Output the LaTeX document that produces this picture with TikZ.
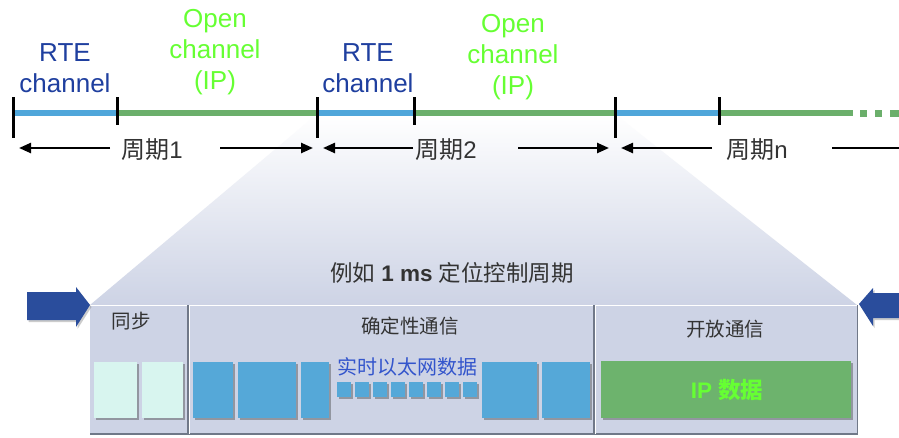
\documentclass[tikz,border=0pt]{standalone}
\usepackage{fontspec}
\setmainfont{Liberation Sans}
\newfontfamily\cjk{Noto Sans CJK SC}
\usetikzlibrary{arrows.meta,shadows}
\definecolor{barblue}{HTML}{4FA6DA}
\definecolor{bargreen}{HTML}{6BAF6B}
\definecolor{rteblue}{HTML}{1F3F9F}
\definecolor{opengreen}{HTML}{66FF33}
\definecolor{boxcol}{HTML}{CDD3E5}
\definecolor{txtgray}{HTML}{333333}
\definecolor{syncfill}{HTML}{D8F5EF}
\definecolor{rtfill}{HTML}{55A8D8}
\definecolor{ipfill}{HTML}{6DB36D}
\definecolor{bigarrow}{HTML}{2A4D9C}
\definecolor{divline}{HTML}{707888}
\definecolor{rttext}{HTML}{3355CC}
\begin{document}
\begin{tikzpicture}[x=1pt,y=-1pt,
  toplabel/.style={align=center,inner sep=0pt,font=\fontsize{26}{31}\selectfont},
  tick/.style={line width=3pt,black},
  bar/.style={line width=6.5pt},
  per/.style={text=txtgray,inner sep=0pt,font=\fontsize{24}{26}\selectfont},
  parr/.style={line width=2.4pt,-{Triangle[length=12pt,width=10pt]}},
  sec/.style={text=txtgray,inner sep=0pt,font=\fontsize{19.5}{22}\selectfont},
  blk/.style={inner sep=0pt,draw=none,drop shadow={shadow xshift=1.5pt,shadow yshift=-1.5pt,opacity=0.45,fill=black!70}},
  syncbox/.style={blk,fill=syncfill,minimum height=56pt},
  rtbox/.style={blk,fill=rtfill,minimum height=56pt},
  smallsq/.style={blk,fill=rtfill,minimum width=14pt,minimum height=15pt}
]
\useasboundingbox (0,0) rectangle (899,437);
\fill[white] (0,0) rectangle (899,437);

% trapezoid zoom region
\shade[top color=white,bottom color=boxcol] (317,114) -- (615,114) -- (857,305) -- (90,305) -- cycle;

% main frame
\fill[boxcol] (90,305) rectangle (857,435);
\draw[white,line width=1.2pt] (90,305.5) -- (857,305.5);
\draw[divline,line width=1.5pt] (90,434) -- (858,434);
\draw[divline,line width=1.5pt] (857.5,305) -- (857.5,435);
\draw[divline,line width=1.2pt] (188,305) -- (188,434);
\draw[white,line width=0.8pt] (189.5,305) -- (189.5,434);
\draw[divline,line width=1.2pt] (594,305) -- (594,434);
\draw[white,line width=0.8pt] (595.5,305) -- (595.5,434);

% timeline bars
\draw[bar,barblue] (13,113) -- (117,113);
\draw[bar,bargreen] (117,113) -- (317,113);
\draw[bar,barblue] (317,113) -- (414,113);
\draw[bar,bargreen] (414,113) -- (615,113);
\draw[bar,barblue] (615,113) -- (719,113);
\draw[bar,bargreen] (719,113) -- (853,113);
\foreach \x in {860,875,890} \fill[bargreen] (\x,110) rectangle (\x+7,116.5);
\fill[bargreen] (896,110) rectangle (899,116.5);

% ticks
\draw[tick] (13,97) -- (13,138);
\draw[tick] (117,97) -- (117,125);
\draw[tick] (317,97) -- (317,138);
\draw[tick] (414,97) -- (414,125);
\draw[tick] (615,97) -- (615,138);
\draw[tick] (719,97) -- (719,125);

% top labels
\node[toplabel,text=rteblue] (rte1) at (65,68) {RTE\\channel};
\node[toplabel,text=opengreen] (open1) at (215,52) {Open\\channel\\(IP)};
\node[toplabel,text=rteblue] (rte2) at (368,68) {RTE\\channel};
\node[toplabel,text=opengreen] (open2) at (513,57) {Open\\channel\\(IP)};

% period arrows
\node[per] (p1) at (152,150) {{\cjk 周期}1};
\node[per] (p2) at (446,150) {{\cjk 周期}2};
\node[per] (p3) at (757,150) {{\cjk 周期}n};
\coordinate (a1l) at (19,148); \coordinate (a1r) at (313,148);
\coordinate (a2l) at (323,148); \coordinate (a2r) at (609,148);
\coordinate (a3l) at (621,148); \coordinate (a3r) at (899,148);
\draw[parr] (110,148) -- (a1l);
\draw[parr] (220,148) -- (a1r);
\draw[parr] (413,148) -- (a2l);
\draw[parr] (518,148) -- (a2r);
\draw[parr] (712,148) -- (a3l);
\draw[line width=2.4pt] (832,148) -- (a3r);

% heading
\node[text=txtgray,inner sep=0pt,font=\fontsize{22.5}{26}\selectfont] (head) at (452,273) {{\cjk 例如} \textbf{1 ms} {\cjk 定位控制周期}};

% section titles
\node[sec] (tsync) at (131,321) {\cjk 同步};
\node[sec] (tdet) at (410,326) {\cjk 确定性通信};
\node[sec] (topen) at (725,329) {\cjk 开放通信};

% sync boxes
\node[syncbox,minimum width=43pt] (s1) at (115.5,390) {};
\node[syncbox,minimum width=41pt] (s2) at (162.5,390) {};

% RT boxes
\node[rtbox,minimum width=40pt] (r1) at (213,390) {};
\node[rtbox,minimum width=58pt] (r2) at (267,390) {};
\node[rtbox,minimum width=28pt] (r3) at (315,390) {};
\node[rtbox,minimum width=55pt] (r4) at (509.5,390) {};
\node[rtbox,minimum width=48pt] (r5) at (566,390) {};
\foreach \i in {0,...,7} \node[smallsq] (q\i) at (344+\i*18,389.5) {};
\node[inner sep=0pt,text=rttext,font=\fontsize{20}{22}\selectfont] (rttxt) at (407,367) {\cjk 实时以太网数据};

% IP box
\node[blk,fill=ipfill,minimum width=250pt,minimum height=57pt] (ip) at (726,389.5) {};
\node[inner sep=0pt,text=opengreen,font=\fontsize{22.5}{24}\selectfont\bfseries] (iptxt) at (727,390) {IP {\cjk 数据}};

% big arrows
\fill[bigarrow,drop shadow={shadow xshift=1.5pt,shadow yshift=-2pt,opacity=0.4}] (27,292) -- (76,292) -- (76,287) -- (90,305) -- (76,327) -- (76,320) -- (27,320) -- cycle;
\fill[bigarrow,drop shadow={shadow xshift=1.5pt,shadow yshift=-2pt,opacity=0.4}] (899,293) -- (873,293) -- (873,288) -- (859,304) -- (873,326) -- (873,318) -- (899,318) -- cycle;
\end{tikzpicture}
\end{document}
